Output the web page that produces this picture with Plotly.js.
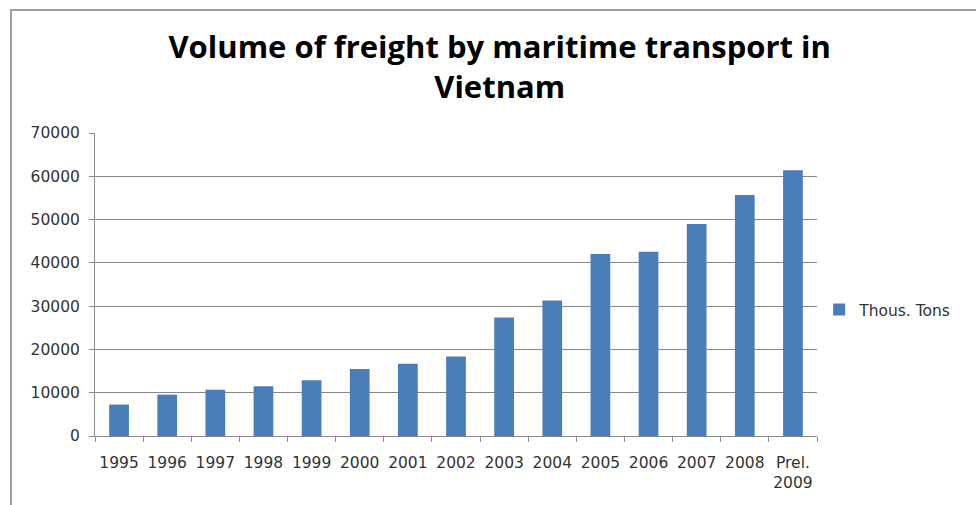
<!DOCTYPE html>
<html>
<head>
<meta charset="utf-8">
<script src="https://cdn.plot.ly/plotly-3.0.1.min.js"></script>
<style>
  html, body { margin: 0; padding: 0; background: #fff; }
  #chart { width: 976px; height: 505px; }
  #frame { position: absolute; left: 10px; top: 9px; width: 980px; height: 510px;
           border-top: 2px solid #a49c9c; border-left: 2px solid #a49c9c; pointer-events: none; }
</style>
</head>
<body>
<div id="chart"></div>
<div id="frame"></div>
<script>
const categories = ['1995','1996','1997','1998','1999','2000','2001','2002','2003','2004','2005','2006','2007','2008','Prel.<br>2009'];
const freight = [7260, 9560, 10710, 11480, 12860, 15480, 16700, 18390, 27370, 31290, 42050, 42580, 48960, 55650, 61400];
const seriesName = 'Thous. Tons';
const titleText = 'Volume of freight by maritime transport in<br>Vietnam';
const yTicks = [0, 10000, 20000, 30000, 40000, 50000, 60000, 70000];

const trace = {
  type: 'bar',
  x: categories,
  y: freight,
  name: seriesName,
  marker: { color: '#4a7ebb' },
  showlegend: true
};

const tickFont = { family: 'DejaVu Sans, sans-serif', size: 15.5, color: '#333333' };

const layout = {
  width: 976,
  height: 505,
  margin: { l: 95, r: 159, t: 133, b: 68.5 },
  paper_bgcolor: '#ffffff',
  plot_bgcolor: '#ffffff',
  bargap: 0.59,
  font: { family: 'DejaVu Sans, sans-serif', size: 15, color: '#333333' },
  title: {
    text: titleText,
    x: 0.512, xanchor: 'center',
    y: 0.886, yanchor: 'top',
    font: { family: 'Open Sans, sans-serif', size: 31, color: '#000000', weight: 'bold' }
  },
  xaxis: {
    type: 'category',
    showline: true, linecolor: '#8a8a8a', linewidth: 1,
    ticks: 'outside', ticklen: 5, tickcolor: '#8a8a8a',
    tickson: 'boundaries',
    showgrid: false,
    tickangle: 0,
    ticklabelstandoff: 12,
    tickfont: tickFont
  },
  yaxis: {
    range: [0, 70000],
    tickvals: yTicks,
    ticktext: yTicks.map(String),
    showline: true, linecolor: '#8a8a8a', linewidth: 1,
    ticks: 'outside', ticklen: 5, tickcolor: '#8a8a8a',
    showgrid: true, gridcolor: '#8c8585', gridwidth: 1,
    zeroline: false,
    ticklabelstandoff: 6,
    tickfont: tickFont
  },
  legend: {
    x: 1.003, xanchor: 'left',
    y: 0.416, yanchor: 'middle',
    font: tickFont,
    itemwidth: 30
  }
};

Plotly.newPlot('chart', [trace], layout, { displayModeBar: false, staticPlot: true });
</script>
</body>
</html>
